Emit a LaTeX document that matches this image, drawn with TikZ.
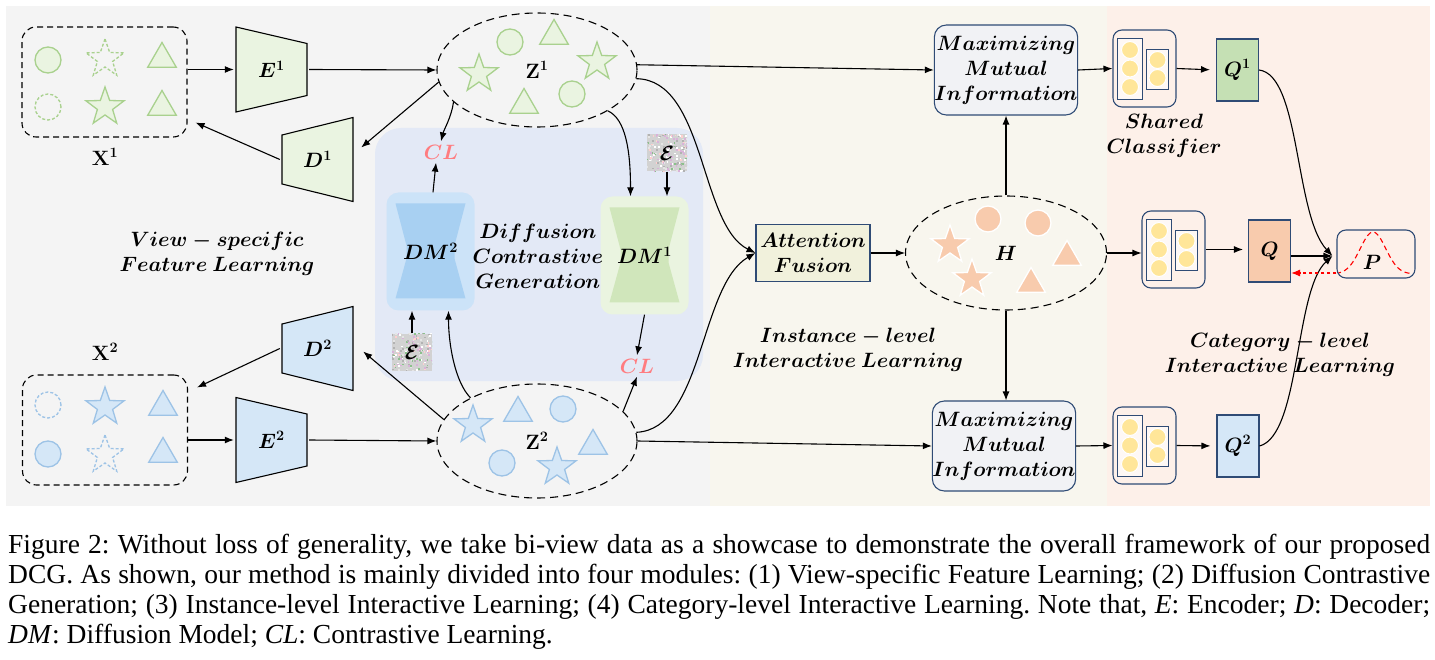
\documentclass[tikz,border=0pt]{standalone}
\usepackage{fontspec}
\setmainfont{Liberation Serif}
\usepackage{amsmath,amssymb}
\usetikzlibrary{shapes.geometric,arrows.meta,calc,positioning}

\definecolor{bggrey}{HTML}{F4F4F4}
\definecolor{bgbeige}{HTML}{F8F6EE}
\definecolor{bgpink}{HTML}{FDF0E9}
\definecolor{diffblue}{HTML}{E3E9F6}
\definecolor{greenline}{HTML}{A9D18E}
\definecolor{greenfill}{HTML}{EAF4E1}
\definecolor{dmgreenout}{HTML}{EAF4E0}
\definecolor{dmgreenin}{HTML}{D0E6BB}
\definecolor{blueline}{HTML}{9DC3E6}
\definecolor{bluefill}{HTML}{D5E7F7}
\definecolor{dmblueout}{HTML}{CCE3F8}
\definecolor{dmbluein}{HTML}{A8D0F2}
\definecolor{salmon}{HTML}{F8CBAD}
\definecolor{navy}{HTML}{2F4B75}
\definecolor{clpink}{HTML}{FF7C80}
\definecolor{qgreen}{HTML}{C5E0B4}
\definecolor{neuron}{HTML}{FFE699}
\definecolor{mmifill}{HTML}{F1F2F5}
\definecolor{affill}{HTML}{F1F1DC}

\pgfmathdeclarerandomlist{noisecols}{{pink!75}{green!30!gray!70}{gray!60}{violet!30}{white}{gray!20}}

\tikzset{
  every node/.style={font=\fontsize{20}{25}\selectfont\boldmath},
  arr/.style={line width=1.1pt, -{Latex[length=9pt,width=7pt]}},
  pqarr/.style={red, dashed, line width=1.1pt, -{Latex[length=9pt,width=7pt]}},
  setbox/.style={draw, line width=1.1pt, dash pattern=on 6pt off 4pt, rounded corners=14pt,
    minimum width=165pt, minimum height=110pt, inner sep=0pt},
  featell/.style={draw, ellipse, line width=1.1pt, dash pattern=on 8pt off 5pt,
    minimum width=200pt, minimum height=114pt, inner sep=0pt},
  shp/.style={draw=#1line, fill=#1fill, line width=1.3pt, inner sep=0pt},
  hshp/.style={draw=white, fill=salmon, line width=1.3pt, inner sep=0pt},
  ghost/.style={dash pattern=on 3pt off 2pt, fill=none},
  circ/.style={circle, minimum size=26pt},
  sstar/.style={star, star points=5, star point ratio=2.5, minimum size=40pt},
  tri/.style={regular polygon, regular polygon sides=3, minimum size=33pt},
  % encoder: long side left, decoder: long side right
  enc/.style={minimum width=75pt, minimum height=89pt, inner sep=0pt,
    path picture={\draw[line width=1.1pt, fill=#1, shift={(path picture bounding box.center)}]
      (-35.5,-42.5) -- (35.5,-26) -- (35.5,26) -- (-35.5,42.5) -- cycle;}},
  dec/.style={minimum width=75pt, minimum height=89pt, inner sep=0pt,
    path picture={\draw[line width=1.1pt, fill=#1, shift={(path picture bounding box.center)}]
      (-35.5,-24.5) -- (35.5,-42) -- (35.5,42) -- (-35.5,24.5) -- cycle;}},
  dmbox/.style 2 args={rounded corners=12pt, fill=#1, minimum width=88pt, minimum height=118pt, inner sep=0pt,
    path picture={\fill[#2, sharp corners, shift={(path picture bounding box.center)}]
      (-35,-48) -- (35,-48) -- (24,-6) -- (24,7) -- (35,47) -- (-35,47) -- (-24,7) -- (-24,-6) -- cycle;}},
  noise/.style={minimum width=40pt, minimum height=37pt, inner sep=0pt, fill=gray!35,
    path picture={\foreach \k in {1,...,420}{
        \pgfmathsetmacro\nx{rnd*60-30}\pgfmathsetmacro\ny{rnd*56-28}
        \pgfmathrandomitem{\nc}{noisecols}
        \fill[fill=\nc, shift={(path picture bounding box.center)}] (\nx,\ny) rectangle +(1.7,1.7);}}},
  mmi/.style={draw=navy, line width=1.1pt, rounded corners=12pt, fill=mmifill,
    minimum width=139pt, minimum height=90pt, align=center, inner sep=0pt},
  afbox/.style={draw=navy, line width=1.1pt, fill=affill, minimum width=114pt, minimum height=57pt,
    align=center, inner sep=0pt},
  clsbox/.style={draw=navy, line width=1.1pt, rounded corners=9pt, fill=bgpink,
    minimum width=63pt, minimum height=77pt, inner sep=0pt,
    path picture={\begin{scope}[shift={(path picture bounding box.center)}, sharp corners]
        \draw[navy, line width=1.1pt, fill=white!55!bgpink] (-27,-30) rectangle (-2,31);
        \draw[navy, line width=1.1pt, fill=white!55!bgpink] (2,-19) rectangle (24,21);
        \foreach \cy in {-18.5,0,18.5} \filldraw[fill=neuron, draw=white, line width=1pt] (-14.5,\cy) circle[radius=8.5pt];
        \foreach \cy in {-8.5,9.5} \filldraw[fill=neuron, draw=white, line width=1pt] (13,\cy) circle[radius=8.5pt];
      \end{scope}}},
  qbox/.style={draw=navy, line width=1.1pt, fill=#1, minimum width=42pt, minimum height=62pt, inner sep=0pt},
  pbox/.style={draw=navy, line width=1.1pt, rounded corners=9pt, fill=bgpink,
    minimum width=78pt, minimum height=48pt, inner sep=0pt,
    path picture={\draw[red, line width=1.1pt, dash pattern=on 5pt off 3.5pt, sharp corners,
        shift={(path picture bounding box.center)}]
        plot[domain=-40:36, samples=50, smooth] (\x, {20-42*exp(-((\x+3)/18)^2)});}},
}

\begin{document}
\begin{tikzpicture}[x=1pt, y=-1pt]
  \pgfmathsetseed{17}
  \useasboundingbox (0,0) rectangle (1435,660);
  % background panels
  \fill[white] (0,0) rectangle (1435,660);
  \fill[bggrey] (6,6) rectangle (710,506);
  \fill[bgbeige] (710,6) rectangle (1107,506);
  \fill[bgpink] (1107,6) rectangle (1430,506);
  \fill[diffblue, rounded corners=26pt] (375,128) rectangle (703,381);

  % view 1 input set
  \node[setbox] (x1) at (104.5,82) {};
  \node (x1lbl) at (105,157) {$\mathbf{X}^{\mathbf{1}}$};
  \node[shp=green, circ] (x1a) at (48,60) {};
  \node[shp=green, sstar, ghost] (x1b) at (105,59) {};
  \node[shp=green, tri] (x1c) at (162,59) {};
  \node[shp=green, circ, ghost] (x1d) at (48,107) {};
  \node[shp=green, sstar] (x1e) at (105,107) {};
  \node[shp=green, tri] (x1f) at (162,107) {};
  % view 2 input set
  \node[setbox] (x2) at (105,430) {};
  \node (x2lbl) at (105,352) {$\mathbf{X}^{\mathbf{2}}$};
  \node[shp=blue, circ, ghost] (x2a) at (48,405) {};
  \node[shp=blue, sstar] (x2b) at (105,407) {};
  \node[shp=blue, tri] (x2c) at (163,407) {};
  \node[shp=blue, circ] (x2d) at (48,454) {};
  \node[shp=blue, sstar, ghost] (x2e) at (105,455) {};
  \node[shp=blue, tri] (x2f) at (163,454) {};

  % encoders and decoders
  \node[enc=greenfill] (e1) at (271.5,69.5) {};
  \node (e1lbl) at (e1) {$E^{1}$};
  \node[dec=greenfill] (d1) at (317.5,159.5) {};
  \node (d1lbl) at (d1) {$D^{1}$};
  \node[enc=bluefill] (e2) at (271.5,440) {};
  \node (e2lbl) at (e2) {$E^{2}$};
  \node[dec=bluefill] (d2) at (317.5,348.5) {};
  \node (d2lbl) at (d2) {$D^{2}$};

  % latent features Z1
  \node[featell] (z1) at (537,70) {$\mathbf{Z}^{\mathbf{1}}$};
  \node[shp=green, circ] (z1a) at (510,42) {};
  \node[shp=green, tri] (z1b) at (554,36) {};
  \node[shp=green, sstar] (z1c) at (479,74) {};
  \node[shp=green, sstar] (z1d) at (597,62) {};
  \node[shp=green, tri] (z1e) at (524,105) {};
  \node[shp=green, circ] (z1f) at (572,94) {};
  % latent features Z2
  \node[featell] (z2) at (537,441) {$\mathbf{Z}^{\mathbf{2}}$};
  \node[shp=blue, sstar] (z2a) at (473,425) {};
  \node[shp=blue, tri] (z2b) at (518,413) {};
  \node[shp=blue, circ] (z2c) at (563,409) {};
  \node[shp=blue, tri] (z2d) at (593,446) {};
  \node[shp=blue, circ] (z2e) at (502,463) {};
  \node[shp=blue, sstar] (z2f) at (557,467) {};

  % diffusion contrastive generation
  \node[dmbox={dmblueout}{dmbluein}] (dm2) at (430.5,251.5) {};
  \node (dm2lbl) at (dm2) {$DM^{2}$};
  \node[dmbox={dmgreenout}{dmgreenin}] (dm1) at (644.5,255.5) {};
  \node (dm1lbl) at (dm1) {$DM^{1}$};
  \node[noise] (eps1) at (667,153) {$\mathcal{E}$};
  \node[noise] (eps2) at (412,352) {$\mathcal{E}$};
  \node[text=clpink] (cl1) at (441,152) {$CL$};
  \node[text=clpink] (cl2) at (637,366) {$CL$};
  \node[align=center] (dcg) at (538,256) {$Diffusion$\\$Contrastive$\\$Generation$};

  % fusion and consistency
  \node[afbox] (af) at (813,253) {$Attention$\\$Fusion$};
  \node[featell, minimum width=201pt] (h) at (1006,253) {$H$};
  \node[hshp, circ] (ha) at (988,219) {};
  \node[hshp, circ] (hb) at (1038,223) {};
  \node[hshp, sstar] (hc) at (950,245) {};
  \node[hshp, tri] (hd) at (1067,257) {};
  \node[hshp, sstar] (he) at (972,279) {};
  \node[hshp, tri] (hf) at (1031,284) {};
  \node[mmi] (mmi1) at (1006,70) {$Maximizing$\\$Mutual$\\$Information$};
  \node[mmi] (mmi2) at (1004,446) {$Maximizing$\\$Mutual$\\$Information$};

  % shared classifier and predictions
  \node[clsbox] (cls1) at (1144.5,68.5) {};
  \node[clsbox] (clsh) at (1173.5,249.5) {};
  \node[clsbox] (cls2) at (1144.5,445.5) {};
  \node[qbox=qgreen] (q1) at (1237.5,70) {$Q^{1}$};
  \node[qbox=salmon] (q) at (1269.5,251) {$Q$};
  \node[qbox=bluefill] (q2) at (1238,446) {$Q^{2}$};
  \node[pbox] (p) at (1376,254) {};
  \node (plbl) at (1372,262) {$P$};

  % module labels
  \node[align=center] (vsfl) at (217,254) {$View-specific$\\$Feature\ Learning$};
  \node[align=center] (iil) at (848,350) {$Instance-level$\\$Interactive\ Learning$};
  \node[align=center] (cil) at (1280,355) {$Category-level$\\$Interactive\ Learning$};
  \node[align=center] (shcl) at (1164,136) {$Shared$\\$Classifier$};

  % view-specific arrows
  \draw[arr] (x1.east |- e1.west) -- (e1.west);
  \draw[arr] (d1.west) -- ([shift={(8,-15)}]x1.south east);
  \draw[arr] (e1.east) -- (z1.west);
  \draw[arr] (z1.187) -- ([shift={(6,-12)}]d1.east);
  \draw[arr] (x2.east |- e2.west) -- (e2.west);
  \draw[arr] (d2.west) -- ([shift={(9,13)}]x2.north east);
  \draw[arr] (e2.east) -- (z2.west);
  \draw[arr] (z2.167) -- ([shift={(8,3)}]d2.east);

  % diffusion arrows
  \draw[arr] (z1.201) .. controls +(-2,15) and +(3,-12) .. (cl1.north);
  \draw[arr] ([xshift=2.5pt]dm2.north) -- ([xshift=-5pt]cl1.south);
  \draw[arr] (z1.330) .. controls +(18,8) and +(0,-45) .. ([xshift=-14pt]dm1.north);
  \draw[arr] (eps1.south) -- (eps1.south |- dm1.north);
  \draw[arr] (dm1.south) -- (cl2.north);
  \draw[arr] (z2.19) -- (cl2.south);
  \draw[arr] (eps2.north) -- (eps2.north |- dm2.south);
  \draw[arr] (z2.147) .. controls +(-15,-15) and +(0,35) .. ([xshift=18pt]dm2.south);

  % instance-level arrows
  \draw[arr] (z1.3) -- (mmi1.west);
  \draw[arr] (z1.355) .. controls +(69,1) and +(-56,-28) .. (af.west);
  \draw[arr] (z2.5) .. controls +(67,-3) and +(-56,32) .. (af.west);
  \draw[arr] (z2.east) -- (mmi2.west);
  \draw[arr] (af.east) -- (h.west);
  \draw[arr] (h.north) -- (mmi1.south);
  \draw[arr] (h.south) -- (h.south |- mmi2.north);

  % category-level arrows
  \draw[arr] (mmi1.east) -- (cls1.west);
  \draw[arr] (mmi2.east) -- (cls2.west);
  \draw[arr] (h.east) -- (h.east -| clsh.west);
  \draw[arr, shorten >=6pt] (cls1.east) -- (q1.west);
  \draw[arr, shorten >=6pt] (cls2.east) -- (q2.west);
  \draw[arr, shorten >=5pt] (clsh.east) -- (clsh.east -| q.west);
  \coordinate (pin) at ([shift={(-4,2)}]p.west);
  \draw[arr] (q.east |- pin) -- (pin);
  \draw[arr] (q1.east) .. controls +(41.5,5) and +(-38,-41) .. (pin);
  \draw[arr] (q2.east) .. controls +(41,-11) and +(-38,34) .. (pin);
  \coordinate (pq) at ([yshift=-19pt]p.west);
  \draw[pqarr] (pq) -- (pq -| q.east);

  % caption
  \node[anchor=north west, align=left, inner sep=0pt,
    font=\fontsize{27.5}{30}\selectfont\frenchspacing] (cap) at (8,534)
    {\makebox[1422pt][s]{Figure 2: Without loss of generality, we take bi-view data as a showcase to demonstrate the overall framework of our proposed}\\
     \makebox[1422pt][s]{DCG. As shown, our method is mainly divided into four modules: (1) View-specific Feature Learning; (2) Diffusion Contrastive}\\
     \makebox[1422pt][s]{Generation; (3) Instance-level Interactive Learning; (4) Category-level Interactive Learning. Note that, \textit{E}: Encoder; \textit{D}: Decoder;}\\
     \makebox[1422pt][l]{\textit{DM}: Diffusion Model; \textit{CL}: Contrastive Learning.}};
\end{tikzpicture}
\end{document}
